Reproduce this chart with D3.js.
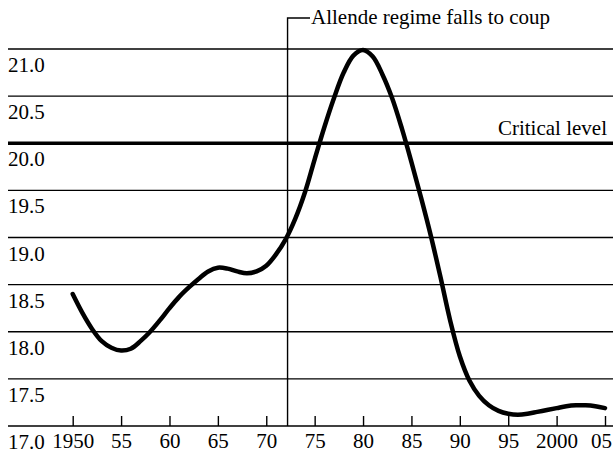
<!DOCTYPE html>
<html>
<head>
<meta charset="utf-8">
<script src="https://d3js.org/d3.v7.min.js"></script>
<style>
  body { margin: 0; background: #fff; }
  svg { display: block; }
  text { font-family: "Liberation Serif", "Times New Roman", serif; fill: #000; }
</style>
</head>
<body>
<div id="chart"></div>
<script>
// years and index values
var years = [1950, 1951, 1952, 1953, 1954, 1955, 1956, 1957, 1958, 1959,
             1960, 1961, 1962, 1963, 1964, 1965, 1966, 1967, 1968, 1969,
             1970, 1971, 1972, 1973, 1974, 1975, 1976, 1977, 1978, 1979,
             1980, 1981, 1982, 1983, 1984, 1985, 1986, 1987, 1988, 1989,
             1990, 1991, 1992, 1993, 1994, 1995, 1996, 1997, 1998, 1999,
             2000, 2001, 2002, 2003, 2004, 2005];
var values = [18.40, 18.20, 18.03, 17.90, 17.83, 17.80, 17.82, 17.90, 18.00, 18.12,
              18.25, 18.37, 18.47, 18.56, 18.64, 18.68, 18.67, 18.64, 18.62, 18.64,
              18.70, 18.82, 18.98, 19.20, 19.48, 19.83, 20.17, 20.48, 20.75, 20.93,
              20.99, 20.92, 20.73, 20.48, 20.16, 19.80, 19.42, 19.02, 18.58, 18.12,
              17.74, 17.48, 17.32, 17.22, 17.16, 17.13, 17.12, 17.13, 17.15, 17.17,
              17.19, 17.21, 17.22, 17.22, 17.21, 17.19];

var yTicks = [17.0, 17.5, 18.0, 18.5, 19.0, 19.5, 20.0, 20.5, 21.0];
var xTicks = [1950, 1955, 1960, 1965, 1970, 1975, 1980, 1985, 1990, 1995, 2000, 2005];
var xTickLabels = ["1950", "55", "60", "65", "70", "75", "80", "85", "90", "95", "2000", "05"];

var criticalLevel = 20.0;
var coupYear = 1972.2;
var coupLabel = "Allende regime falls to coup";
var criticalLabel = "Critical level";

function init(){

    var w = 613;
    var h = 456;

    var x = d3.scaleLinear()
              .domain([1950, 2005])
              .range([72.7, 605]);

    var y = d3.scaleLinear()
              .domain([17, 21])
              .range([426, 49]);

    var svg = d3.select("#chart")
                .append("svg")
                .attr("width", w)
                .attr("height", h);

    svg.append("rect")
        .attr("width", w)
        .attr("height", h)
        .attr("fill", "#fff");

    // horizontal rules, one per half point
    svg.selectAll("line.grid")
        .data(yTicks)
        .enter()
        .append("line")
        .attr("class", "grid")
        .attr("x1", 8)
        .attr("x2", w)
        .attr("y1", function(d){ return y(d); })
        .attr("y2", function(d){ return y(d); })
        .attr("stroke", "#000")
        .attr("stroke-width", function(d){ return d === criticalLevel ? 3.5 : 1.4; });

    // value labels sit just under their rule
    svg.selectAll("text.ylab")
        .data(yTicks)
        .enter()
        .append("text")
        .attr("class", "ylab")
        .attr("x", 8)
        .attr("y", function(d){ return y(d) + 23; })
        .style("font-size", "21px")
        .text(function(d){ return d.toFixed(1); });

    // x axis: short ticks pointing up from the base rule
    var xAxis = d3.axisBottom(x)
                  .tickValues(xTicks)
                  .tickSizeInner(-10)
                  .tickSizeOuter(0)
                  .tickPadding(7)
                  .tickFormat(function(d, i){ return xTickLabels[i]; });

    var gx = svg.append("g")
        .attr("transform", "translate(0," + y(17) + ")")
        .call(xAxis);

    gx.select(".domain").remove();
    gx.selectAll(".tick line")
        .attr("stroke", "#000")
        .attr("stroke-width", 1.4);
    gx.selectAll(".tick text")
        .attr("font-family", null)
        .attr("font-size", null)
        .style("font-size", "21px")
        .attr("dx", function(d, i){ return i === xTicks.length - 1 ? -4 : 0; });

    // coup marker
    svg.append("path")
        .attr("d", "M" + x(coupYear) + "," + y(17) + "V18H310")
        .attr("fill", "none")
        .attr("stroke", "#000")
        .attr("stroke-width", 1.4);

    svg.append("text")
        .attr("x", 311)
        .attr("y", 24)
        .style("font-size", "21px")
        .text(coupLabel);

    svg.append("text")
        .attr("x", 607)
        .attr("y", y(criticalLevel) - 8)
        .attr("text-anchor", "end")
        .style("font-size", "21px")
        .text(criticalLabel);

    // the curve
    var data = years.map(function(d, i){ return { year: d, value: values[i] }; });

    var line = d3.line()
                 .x(function(d){ return x(d.year); })
                 .y(function(d){ return y(d.value); })
                 .curve(d3.curveCatmullRom);

    svg.append("path")
        .datum(data)
        .attr("d", line)
        .attr("fill", "none")
        .attr("stroke", "#000")
        .attr("stroke-width", 4.5)
        .attr("stroke-linecap", "round")
        .attr("stroke-linejoin", "round");
}

window.onload = init;
</script>
</body>
</html>
